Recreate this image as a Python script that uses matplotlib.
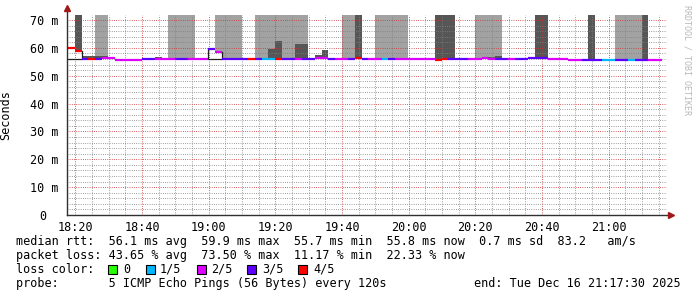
"""SmokePing-style latency graph: median RTT coloured by packet loss, with smoke."""

import matplotlib
matplotlib.use("Agg")
import matplotlib.pyplot as plt
import matplotlib.transforms as mtransforms
from matplotlib.patches import Rectangle
from matplotlib.ticker import MultipleLocator, FuncFormatter

# --- data (minutes after 18:00, 2-minute probe slots) ---
slot_start = 15.9
slot_len = 2.0
x_range = (17.5, 197.5)

# loss per slot: number of lost pings out of 5
loss = ("4443432222" "2233222332" "2232333343" "1143323322" "3223432213"
        "2222224433" "3222233233" "3332222233" "3113313322")

median_ms = [
    59.9, 59.9, 59.0, 56.0, 56.0, 56.0, 56.3, 56.3, 55.8, 55.8,
    55.8, 55.8, 56.1, 56.1, 55.9, 55.9, 55.9, 55.9, 55.9, 55.9,
    55.9, 55.9, 59.5, 58.4, 55.9, 55.9, 55.9, 55.9, 55.9, 55.9,
    55.9, 55.9, 55.9, 56.0, 56.0, 56.1, 55.9, 55.9, 56.3, 56.3,
    56.0, 55.9, 55.9, 56.0, 56.5, 56.0, 55.9, 55.9, 55.9, 55.9,
    55.9, 55.9, 55.9, 55.9, 55.9, 55.9, 55.8, 56.1, 56.0, 56.0,
    56.0, 55.9, 55.9, 56.5, 56.0, 55.9, 55.9, 56.0, 55.9, 55.9,
    56.4, 56.4, 56.4, 55.9, 55.9, 55.9, 55.5, 55.5, 55.5, 55.5,
    55.5, 55.8, 55.8, 55.8, 55.8, 55.8, 55.5, 55.5, 55.8, 55.8,
]

# smoke: slots whose spread of pings goes off the top (light) and darker core
light_slots = [5, 6, 16, 17, 18, 19, 23, 24, 25, 26, 29, 30, 31, 32, 33, 34,
               35, 36, 42, 43, 47, 48, 49, 50, 51, 62, 63, 64, 65, 83, 84, 85, 86]
dark_slots = [2, 3, 4, 5, 6, 14, 31, 32, 35, 36, 38, 39, 44, 56, 57, 58,
              64, 65, 71, 72, 79, 87]
dark_top = [72, 57.0, 57.0, 57.0, 57.0, 56.7, 59.6, 62.5, 61.4, 61.4, 57.4, 59.2,
            72, 72, 72, 72, 56.7, 57.1, 72, 72, 72, 72]

loss_colors = {0: "#26ff00", 1: "#00b8ff", 2: "#dd00ff", 3: "#5e00ff", 4: "#ff0000"}
loss_labels = ["0", "1/5", "2/5", "3/5", "4/5"]

stats_lines = [
    "median rtt:  56.1 ms avg  59.9 ms max  55.7 ms min  55.8 ms now  0.7 ms sd  83.2   am/s",
    "packet loss: 43.65 % avg  73.50 % max  11.17 % min  22.33 % now",
    "loss color:",
    "probe:       5 ICMP Echo Pings (56 Bytes) every 120s",
]
end_text = "end: Tue Dec 16 21:17:30 2025"

W, H = 697, 297
MONO = "DejaVu Sans Mono"
plt.rcParams["font.family"] = MONO

fig = plt.figure(figsize=(W / 100, H / 100), dpi=100)
ax = fig.add_axes([67 / W, (H - 215) / H, 600 / W, 200 / H])
ymax = 200 / 2.786

left = [slot_start + i * slot_len for i in range(len(median_ms))]

# smoke bars
ax.bar([left[i] for i in light_slots], [ymax + 1 - median_ms[i] for i in light_slots],
       width=slot_len, bottom=[median_ms[i] for i in light_slots], align="edge",
       color="#a2a2a2", linewidth=0, antialiased=False, zorder=1)
ax.bar([left[i] for i in dark_slots], [t - median_ms[i] for i, t in zip(dark_slots, dark_top)],
       width=slot_len, bottom=[median_ms[i] for i in dark_slots], align="edge",
       color="#565656", linewidth=0, antialiased=False, zorder=1.1)

# black outline where the median sits well above the minimum
base = 55.9
i = 0
while i < len(median_ms):
    if median_ms[i] > base + 1:
        j = i
        while j + 1 < len(median_ms) and median_ms[j + 1] > base + 1:
            j += 1
        x0, x1 = left[i], left[j] + slot_len
        ax.plot([x0, x0, x1, x1], [median_ms[i], base, base, median_ms[j]],
                color="#202020", lw=0.9, zorder=2.8, solid_joinstyle="miter")
        i = j + 1
    else:
        i += 1

# median line coloured by loss
ax.hlines(median_ms, left, [l + slot_len for l in left],
          colors=[loss_colors[int(c)] for c in loss], lw=1.6, zorder=3)

ax.set_xlim(*x_range)
ax.set_ylim(0, ymax)

ax.xaxis.set_major_locator(MultipleLocator(20))
ax.xaxis.set_minor_locator(MultipleLocator(5))
ax.yaxis.set_major_locator(MultipleLocator(10))
ax.yaxis.set_minor_locator(MultipleLocator(2))
ax.xaxis.set_major_formatter(FuncFormatter(lambda v, p: f"{18 + int(v) // 60}:{int(v) % 60:02d}"))
ax.yaxis.set_major_formatter(FuncFormatter(lambda v, p: "0" if v == 0 else f"{int(v)} m"))
ax.tick_params(axis="both", which="both", length=0, labelsize=8.5, colors="#000000")
ax.tick_params(axis="y", pad=6)
ax.tick_params(axis="x", pad=4)

ax.set_axisbelow(False)
ax.grid(which="minor", color=(0.5, 0.5, 0.5, 0.32), lw=0.72, ls=(0, (0.72, 1.5)))
ax.grid(which="major", color=(0.8, 0.2, 0.2, 0.38), lw=0.72, ls=(0, (0.72, 1.5)))

for s in ax.spines.values():
    s.set_visible(False)
fig.canvas.draw()
for lab in ax.get_yticklabels():
    if lab.get_text() == "0":
        lab.set_transform(lab.get_transform()
                          + mtransforms.ScaledTranslation(-12 / 100, 0, fig.dpi_scale_trans))

# axes with arrows
ax.plot([0, 0], [0, 1.035], transform=ax.transAxes, color="#303030", lw=1, clip_on=False, zorder=4)
ax.plot([0, 1.003], [0, 0], transform=ax.transAxes, color="#303030", lw=1, clip_on=False, zorder=4)
ax.plot([0], [1.035], marker="^", ms=5, color="#a01818", transform=ax.transAxes, clip_on=False, zorder=5)
ax.plot([1.006], [0], marker=">", ms=5, color="#a01818", transform=ax.transAxes, clip_on=False, zorder=5)

ax.set_ylabel("Seconds", fontsize=8.5, labelpad=20)
ax.yaxis.set_label_coords(-55 / 600, 0.5)

fig.text(687 / W, 1 - 5 / H, "RRDTOOL / TOBI OETIKER", rotation=270, va="top", ha="center",
         fontsize=6, color="#b8b8b8")

# legend / stats block
rows_y = [241.5, 255.5, 269.5, 283.5]
for txt, y in zip(stats_lines, rows_y):
    fig.text(16 / W, 1 - y / H, txt, fontsize=8.5, va="center", ha="left")
fig.text(681 / W, 1 - rows_y[3] / H, end_text, fontsize=8.5, va="center", ha="right")

box_x = [108, 146, 197, 247, 298]
label_x = [123, 160, 211, 262, 313]
for k, (bx, lx, lab) in enumerate(zip(box_x, label_x, loss_labels)):
    fig.patches.append(Rectangle((bx / W, 1 - 273.5 / H), 8.5 / W, 8.5 / H,
                                 transform=fig.transFigure, facecolor=loss_colors[k],
                                 edgecolor="#000000", lw=0.8))
    fig.text(lx / W, 1 - rows_y[2] / H, lab, fontsize=8.5, va="center", ha="left")

fig.savefig("out.png", dpi=100, facecolor="white")
